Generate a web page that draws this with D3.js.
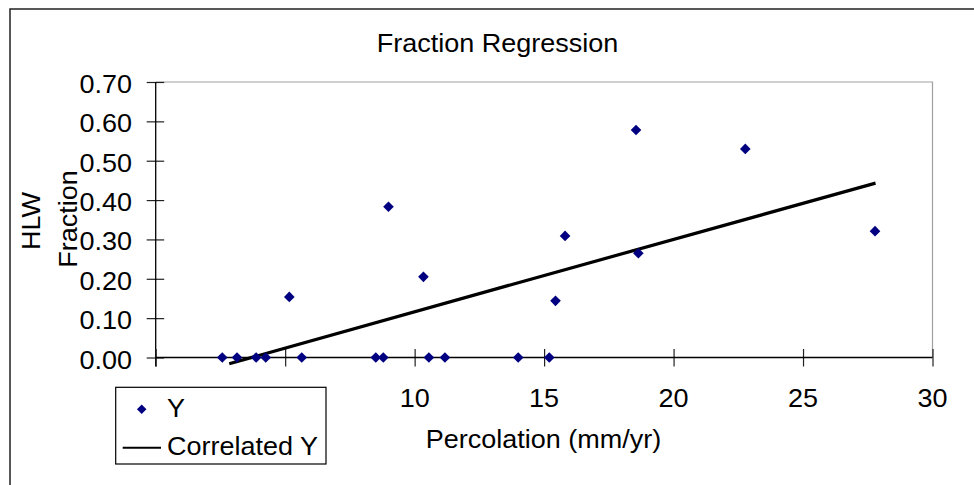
<!DOCTYPE html>
<html><head><meta charset="utf-8">
<script src="https://cdn.jsdelivr.net/npm/d3@7"></script>
<style>html,body{margin:0;padding:0;background:#fff;} svg{display:block;} text{font-family:"Liberation Sans",Arial,sans-serif;fill:#000;}</style>
</head><body>
<svg id="c" width="974" height="485"></svg>
<script>
// Observed data: percolation (mm/yr) vs HLW fraction
const percolation = [2.57, 3.14, 3.88, 4.25, 5.16, 5.64, 8.50, 8.79, 8.99, 10.34, 10.55, 11.17, 14.0, 15.2, 15.44, 15.81, 18.55, 18.64, 22.77, 27.78];
const fractionY   = [0, 0, 0, 0, 0.154, 0, 0, 0, 0.383, 0.205, 0, 0, 0, 0, 0.144, 0.309, 0.578, 0.265, 0.530, 0.321];
// Correlated (regression) series
const corrX = [2.84, 13.29, 27.8];
const corrY = [-0.016, 0.177, 0.443];
const xTicks = [0, 5, 10, 15, 20, 25, 30];
const yTicks = [0, 0.1, 0.2, 0.3, 0.4, 0.5, 0.6, 0.7];
const seriesNames = ["Y", "Correlated Y"];
const titleText = "Fraction Regression";
const xTitle = "Percolation (mm/yr)";
const yTitleLines = ["HLW", "Fraction"];

const svg = d3.select("#c");
const FS = 25, SX = 1.08;
const L = 155.7, R = 932.5, T = 82, B = 357.5;
const x = d3.scaleLinear().domain([0, 30]).range([L, R]);
const y = d3.scaleLinear().domain([0, 0.7]).range([B, T]);

function txt(g, s, tx, ty, anchor, rot) {
  return g.append("text")
    .attr("transform", `translate(${tx},${ty})` + (rot ? ` rotate(${rot})` : "") + ` scale(${SX},1)`)
    .attr("text-anchor", anchor).attr("font-size", FS).text(s);
}

// outer chart border
svg.append("rect").attr("x", 10).attr("y", 9).attr("width", 1000).attr("height", 500)
  .attr("fill", "none").attr("stroke", "#222").attr("stroke-width", 1.5);

// plot area border (grey top and right)
svg.append("path").attr("d", `M${L},${T}H${R}V${B}`).attr("fill", "none").attr("stroke", "#a0a0a0").attr("stroke-width", 1.2);

// y axis with cross ticks
const yAxis = d3.axisLeft(y).tickValues(yTicks).tickSize(0).tickFormat("");
const gy = svg.append("g").attr("transform", `translate(${L},0)`).call(yAxis);
gy.select(".domain").remove();
svg.append("line").attr("x1", L).attr("x2", L).attr("y1", T).attr("y2", B + 9).attr("stroke", "#000").attr("stroke-width", 1.3);
gy.selectAll(".tick line").attr("x1", -9).attr("x2", 8.5).attr("stroke", "#222").attr("stroke-width", 1.2);
yTicks.forEach(v => txt(svg, d3.format(".2f")(v), 132, y(v) + 11, "end"));

// x axis with cross ticks
const xAxis = d3.axisBottom(x).tickValues(xTicks).tickSize(0).tickFormat("");
const gx = svg.append("g").attr("transform", `translate(0,${B})`).call(xAxis);
gx.select(".domain").remove();
svg.append("line").attr("x1", L).attr("x2", R).attr("y1", B).attr("y2", B).attr("stroke", "#000").attr("stroke-width", 1.3);
gx.selectAll(".tick line").attr("y1", -8.5).attr("y2", 9).attr("stroke", "#222").attr("stroke-width", 1.2);
xTicks.forEach(v => txt(svg, String(v), x(v), 407, "middle"));

// regression line
const corr = corrX.map((v, i) => [v, corrY[i]]);
svg.append("path").datum(corr)
  .attr("d", d3.line().x(d => x(d[0])).y(d => y(d[1])))
  .attr("fill", "none").attr("stroke", "#000").attr("stroke-width", 3.2);

// points
const diamond = d3.symbol().type(d3.symbolDiamond2).size(72);
svg.append("g").selectAll("path").data(percolation.map((v, i) => [v, fractionY[i]]))
  .join("path")
  .attr("transform", d => `translate(${x(d[0])},${y(d[1])})`)
  .attr("d", diamond).attr("fill", "#000080");

// titles
txt(svg, titleText, 497.5, 51.7, "middle");
txt(svg, xTitle, 543.5, 447.7, "middle");
txt(svg, yTitleLines[0], 40, 221, "middle", -90);
txt(svg, yTitleLines[1], 77, 219, "middle", -90);

// legend
const lg = svg.append("g");
lg.append("rect").attr("x", 115.7).attr("y", 387.3).attr("width", 210.3).attr("height", 76.7)
  .attr("fill", "#fff").attr("stroke", "#000").attr("stroke-width", 1.2);
lg.append("path").attr("transform", "translate(141.7,409.3)").attr("d", d3.symbol().type(d3.symbolDiamond2).size(58)).attr("fill", "#000080");
txt(lg, seriesNames[0], 167, 417, "start");
lg.append("line").attr("x1", 122.7).attr("x2", 161).attr("y1", 447.7).attr("y2", 447.7).attr("stroke", "#000").attr("stroke-width", 2);
txt(lg, seriesNames[1], 167, 455, "start");
</script>
</body></html>
